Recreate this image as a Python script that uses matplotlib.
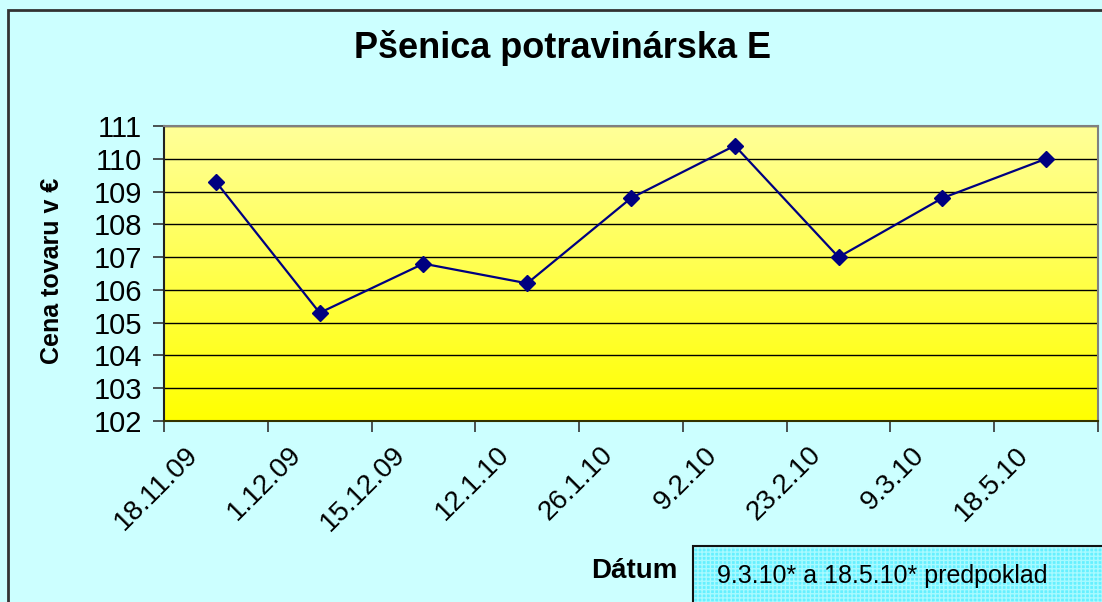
import numpy as np
import matplotlib
matplotlib.use("Agg")
import matplotlib.pyplot as plt
from matplotlib.patches import Rectangle
from matplotlib.colors import LinearSegmentedColormap
from matplotlib.transforms import ScaledTranslation

plt.rcParams['font.family'] = ['Liberation Sans', 'DejaVu Sans']

# data
dates = ['18.11.09', '1.12.09', '15.12.09', '12.1.10', '26.1.10',
         '9.2.10', '23.2.10', '9.3.10', '18.5.10']
prices = [109.3, 105.3, 106.8, 106.2, 108.8, 110.4, 107.0, 108.8, 110.0]
y_ticks = list(range(102, 112))

title = 'Pšenica potravinárska E'
y_label = 'Cena tovaru v €'
x_label = 'Dátum'
note = '9.3.10* a 18.5.10* predpoklad'

W, H = 1102, 602
fig = plt.figure(figsize=(W / 100, H / 100), dpi=100, facecolor='#CCFFFF')

# outer frame of the chart
fig.patches.append(Rectangle((8 / W, -0.1), 1.2, 1 - 10 / H + 0.1, transform=fig.transFigure,
                             fill=False, edgecolor='#333333', lw=2, zorder=0))

ax = fig.add_axes([164 / W, 1 - 421 / H, (1098 - 164) / W, (421 - 126) / H])

# yellow gradient background
cmap = LinearSegmentedColormap.from_list('yel', ['#FFFF00', '#FFFF99'])
grad = np.linspace(0, 1, 256).reshape(-1, 1)
ax.imshow(grad, cmap=cmap, aspect='auto', extent=[0, 1, 0, 1], origin='lower',
          transform=ax.transAxes, zorder=0)

x = np.arange(len(dates))
ax.plot(x, prices, color='#000080', lw=1.6, marker='D', markersize=8,
        markerfacecolor='#000080', markeredgecolor='#000080', zorder=3)

ax.set_xlim(-0.5, len(dates) - 0.5)
ax.set_ylim(y_ticks[0], y_ticks[-1])
ax.set_yticks(y_ticks)
ax.set_yticklabels([str(v) for v in y_ticks], fontsize=21)
ax.yaxis.grid(True, color='black', lw=1)
for gl in ax.get_ygridlines():
    gl.set_zorder(1)

# category labels at centres, tick marks at the boundaries
ax.set_xticks(x)
ax.set_xticklabels(dates, fontsize=20, rotation=45, ha='right', va='top',
                   rotation_mode='anchor')
ax.set_xticks(np.arange(len(dates) + 1) - 0.5, minor=True)
ax.tick_params(axis='x', which='major', length=0, pad=15)
ax.tick_params(axis='x', which='minor', length=8, width=1.2, color='#333333')
ax.tick_params(axis='y', length=8, width=1.2, color='#333333', pad=8)
for lbl in ax.get_xticklabels():
    lbl.set_transform(lbl.get_transform() + ScaledTranslation(-31 / 100, 0, fig.dpi_scale_trans))

ax.spines['left'].set_color('#222222')
ax.spines['bottom'].set_color('#333300')
ax.spines['top'].set_color('#808080')
ax.spines['right'].set_color('#808080')
for s in ax.spines.values():
    s.set_linewidth(1.5)

fig.text(562 / W, 1 - 48 / H, title, fontsize=26, fontweight='bold', ha='center', va='center')
fig.text(52 / W, 1 - 271 / H, y_label, fontsize=18, fontweight='bold', rotation=90,
         ha='center', va='center')
fig.text(634 / W, 1 - 571 / H, x_label, fontsize=20, fontweight='bold', ha='center', va='center')

# note box with a fine grid pattern
fig.patches.append(Rectangle((693 / W, -0.05), 0.5, (602 - 546) / H + 0.05,
                             transform=fig.transFigure, facecolor='#66F0FF',
                             edgecolor='#A8FAFF', hatch='++++', lw=0, zorder=1))
fig.patches.append(Rectangle((693 / W, -0.05), 0.5, (602 - 546) / H + 0.05,
                             transform=fig.transFigure, fill=False,
                             edgecolor='#111111', lw=1.5, zorder=2))
fig.text(882 / W, 1 - 576 / H, note, fontsize=18, ha='center', va='center', zorder=3)

fig.savefig('out.png', dpi=100, facecolor=fig.get_facecolor())
